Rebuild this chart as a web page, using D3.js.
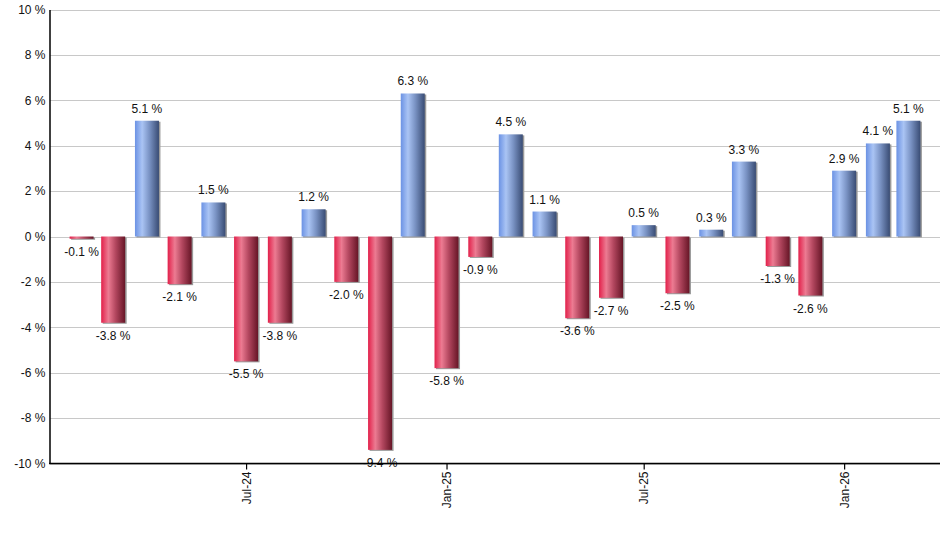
<!DOCTYPE html>
<html>
<head>
<meta charset="utf-8">
<script src="https://cdn.jsdelivr.net/npm/d3@7"></script>
<style>
  body { margin: 0; background: #fff; }
  text { font-family: "Liberation Sans", Arial, sans-serif; }
</style>
</head>
<body>
<svg id="chart"></svg>
<script>
// monthly returns, Jan-24 .. Feb-26 (plotted at the first day of the following month)
const months = ["2024-02-01","2024-03-01","2024-04-01","2024-05-01","2024-06-01","2024-07-01",
  "2024-08-01","2024-09-01","2024-10-01","2024-11-01","2024-12-01","2025-01-01",
  "2025-02-01","2025-03-01","2025-04-01","2025-05-01","2025-06-01","2025-07-01",
  "2025-08-01","2025-09-01","2025-10-01","2025-11-01","2025-12-01","2026-01-01",
  "2026-02-01","2026-03-01"];
const returns = [-0.1, -3.8, 5.1, -2.1, 1.5, -5.5, -3.8, 1.2, -2.0, -9.4, 6.3, -5.8,
  -0.9, 4.5, 1.1, -3.6, -2.7, 0.5, -2.5, 0.3, 3.3, -1.3, -2.6, 2.9, 4.1, 5.1];
const yTicks = [-10, -8, -6, -4, -2, 0, 2, 4, 6, 8, 10];
const xTicks = ["2024-07-01", "2025-01-01", "2025-07-01", "2026-01-01"];

const parse = d3.timeParse("%Y-%m-%d");
const data = months.map((m, i) => ({ date: parse(m), value: returns[i] }));

const width = 940, height = 550;
const margin = { top: 9.5, right: 0, bottom: 86.5, left: 50 };

const svg = d3.select("#chart").attr("width", width).attr("height", height);

const x = d3.scaleTime()
    .domain([parse("2024-01-03"), parse("2026-03-30")])
    .range([margin.left, width - margin.right]);

const y = d3.scaleLinear()
    .domain([-10, 10])
    .range([height - margin.bottom, margin.top]);

const barW = 24;

// gradients
const defs = svg.append("defs");
const grad = (id, stops) => {
    const g = defs.append("linearGradient").attr("id", id)
        .attr("x1", "0%").attr("x2", "100%").attr("y1", "0%").attr("y2", "0%");
    stops.forEach(([o, c]) => g.append("stop").attr("offset", o).attr("stop-color", c));
};
grad("gPos", [["0%", "#6b92e4"], ["30%", "#aac4f4"], ["60%", "#7a93c4"], ["100%", "#394c74"]]);
grad("gNeg", [["0%", "#e2204a"], ["30%", "#ec7b92"], ["60%", "#b3475f"], ["100%", "#661526"]]);

// grid lines
svg.append("g")
    .selectAll("line")
    .data(yTicks)
    .enter().append("line")
    .attr("x1", margin.left)
    .attr("x2", width)
    .attr("y1", d => Math.round(y(d)) + 0.5)
    .attr("y2", d => Math.round(y(d)) + 0.5)
    .attr("stroke", "#c8c8c8")
    .attr("stroke-width", 1);

// bar shadows
svg.append("g")
    .selectAll("rect")
    .data(data)
    .enter().append("rect")
    .attr("x", d => x(d.date) - barW / 2 + 1.5)
    .attr("y", d => Math.min(y(d.value), y(0)) + 1)
    .attr("width", barW)
    .attr("height", d => Math.abs(y(d.value) - y(0)))
    .attr("fill", "#9a9a9a");

// bars
svg.append("g")
    .selectAll("rect")
    .data(data)
    .enter().append("rect")
    .attr("x", d => x(d.date) - barW / 2)
    .attr("y", d => Math.min(y(d.value), y(0)))
    .attr("width", barW)
    .attr("height", d => Math.abs(y(d.value) - y(0)))
    .attr("fill", d => d.value >= 0 ? "url(#gPos)" : "url(#gNeg)");

// value labels
svg.append("g")
    .selectAll("text")
    .data(data)
    .enter().append("text")
    .attr("x", d => x(d.date))
    .attr("y", d => d.value >= 0 ? y(d.value) - 8 : y(d.value) + 17)
    .attr("text-anchor", "middle")
    .attr("font-size", 12)
    .attr("fill", "#111")
    .text(d => d.value.toFixed(1) + " %");

// y axis
const yAxis = svg.append("g")
    .attr("transform", `translate(${margin.left - 0.5},0)`)
    .call(d3.axisLeft(y).tickValues(yTicks).tickSize(0).tickPadding(4)
        .tickFormat(d => d + " %"));
yAxis.select(".domain").attr("stroke", "#000").attr("stroke-width", 1.5);
yAxis.selectAll("text").attr("font-size", 12).attr("fill", "#111")
    .attr("font-family", "Liberation Sans, Arial, sans-serif");

// x axis
const xAxis = svg.append("g")
    .attr("transform", `translate(0,${y(-10)})`)
    .call(d3.axisBottom(x).tickValues(xTicks.map(parse)).tickSize(6).tickSizeOuter(0)
        .tickFormat(d3.timeFormat("%b-%y")));
xAxis.select(".domain").attr("stroke", "#000").attr("stroke-width", 1.5)
    .attr("d", `M${margin.left - 1},0H${width}`);
xAxis.selectAll(".tick line").attr("stroke", "#000").attr("stroke-width", 1.2);
xAxis.selectAll("text")
    .attr("font-size", 12).attr("fill", "#111")
    .attr("font-family", "Liberation Sans, Arial, sans-serif")
    .attr("transform", "rotate(-90)")
    .attr("text-anchor", "end")
    .attr("x", -8)
    .attr("y", 0)
    .attr("dy", "0.35em");
</script>
</body>
</html>
